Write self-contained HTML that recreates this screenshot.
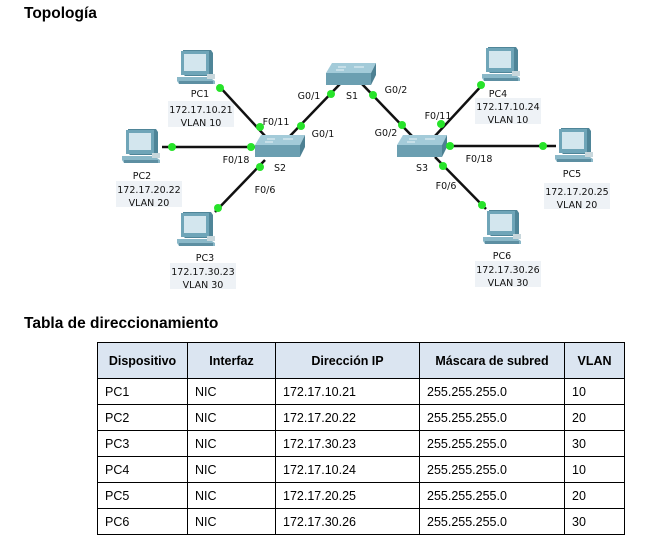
<!DOCTYPE html>
<html><head><meta charset="utf-8"><style>
body{margin:0;background:#fff;width:653px;height:541px;overflow:hidden;font-family:"Liberation Sans",Arial,sans-serif;position:relative}
.h{position:absolute;left:24px;font-weight:bold;font-size:15.5px;color:#000}
table{position:absolute;left:97px;top:342px;border-collapse:collapse;font-size:12.5px}
td,th{border:1px solid #000;height:25px;padding:0 0 0 7px;text-align:left}
th{background:#dbe5f1;height:35px;font-weight:bold;text-align:center;padding:0}
svg{position:absolute;left:0;top:0}
svg text{font-family:"DejaVu Sans",sans-serif;font-size:9.5px;fill:#111}
</style></head><body>
<div class="h" style="top:5px">Topología</div>
<div class="h" style="top:315px">Tabla de direccionamiento</div>
<svg width="653" height="300">
<defs>
<g id="pc">
<polygon points="6,0 34,0 36,3 36,26 8,26 6,24" fill="#4f8598"/>
<rect x="4" y="1" width="28" height="24" fill="#6fa5b8"/>
<rect x="7" y="4" width="22" height="17" fill="#d3e6ee"/>
<polygon points="0,27 32,27 38,31 38,34 2,34 0,31" fill="#8ab8c8"/>
<rect x="2" y="31" width="34" height="3" fill="#5d8fa2"/>
<rect x="30" y="24" width="8" height="5" fill="#c8d7dc"/>
</g>
<g id="sw">
<polygon points="6,0 50,0 45,10 0,10" fill="#a3cbd9"/>
<polygon points="0,10 45,10 45,22 0,22" fill="#6b9fb1"/>
<polygon points="45,10 50,0 50,12 45,22" fill="#4d8193"/>
<line x1="12" y1="4" x2="20" y2="4" stroke="#e8f3f7" stroke-width="1"/>
<line x1="28" y1="4" x2="38" y2="4" stroke="#e8f3f7" stroke-width="1"/>
<line x1="10" y1="7" x2="18" y2="7" stroke="#e8f3f7" stroke-width="1"/>
</g>
</defs>
<rect x="168" y="101" width="66" height="26" fill="#eef2f6"/>
<rect x="116" y="181" width="66" height="26" fill="#eef2f6"/>
<rect x="170" y="263" width="66" height="26" fill="#eef2f6"/>
<rect x="475" y="98" width="66" height="26" fill="#eef2f6"/>
<rect x="544" y="183" width="66" height="26" fill="#eef2f6"/>
<rect x="475" y="261" width="66" height="26" fill="#eef2f6"/>
<g stroke="#111" stroke-width="2.5">
<line x1="218" y1="85" x2="266" y2="137"/>
<line x1="162" y1="147" x2="256" y2="147"/>
<line x1="215" y1="212" x2="265" y2="160"/>
<line x1="290" y1="136" x2="340" y2="84"/>
<line x1="362" y1="84" x2="412" y2="136"/>
<line x1="435" y1="136" x2="484" y2="83"/>
<line x1="445" y1="146" x2="556" y2="146"/>
<line x1="435" y1="157" x2="486" y2="209"/>
</g>
<use href="#pc" x="177" y="50"/>
<use href="#pc" x="122" y="129"/>
<use href="#pc" x="177" y="212"/>
<use href="#pc" x="482" y="47"/>
<use href="#pc" x="555" y="128"/>
<use href="#pc" x="483" y="210"/>
<use href="#sw" x="326" y="63"/>
<use href="#sw" x="255" y="135"/>
<use href="#sw" x="397" y="135"/>
<g fill="#27e32a">
<circle cx="220" cy="88" r="4"/><circle cx="260" cy="127" r="4"/>
<circle cx="172" cy="147" r="4"/><circle cx="251" cy="147" r="4"/>
<circle cx="218" cy="208" r="4"/><circle cx="260" cy="167" r="4"/>
<circle cx="301" cy="126" r="4"/><circle cx="331" cy="94" r="4"/>
<circle cx="373" cy="95" r="4"/><circle cx="402" cy="125" r="4"/>
<circle cx="441" cy="124" r="4"/><circle cx="481" cy="85" r="4"/>
<circle cx="450" cy="146" r="4"/><circle cx="543" cy="146" r="4"/>
<circle cx="443" cy="166" r="4"/><circle cx="482" cy="205" r="4"/>
</g>
<g text-anchor="middle">
<text x="200" y="97">PC1</text><text x="201" y="113">172.17.10.21</text><text x="201" y="126">VLAN 10</text>
<text x="142" y="179">PC2</text><text x="149" y="193">172.17.20.22</text><text x="149" y="206">VLAN 20</text>
<text x="205" y="261">PC3</text><text x="203" y="275">172.17.30.23</text><text x="203" y="288">VLAN 30</text>
<text x="498" y="97">PC4</text><text x="508" y="110">172.17.10.24</text><text x="508" y="123">VLAN 10</text>
<text x="572" y="177">PC5</text><text x="577" y="195">172.17.20.25</text><text x="577" y="208">VLAN 20</text>
<text x="502" y="259">PC6</text><text x="508" y="273">172.17.30.26</text><text x="508" y="286">VLAN 30</text>
<text x="352" y="99">S1</text><text x="280" y="171">S2</text><text x="422" y="171">S3</text>
<text x="309" y="99">G0/1</text><text x="323" y="137">G0/1</text>
<text x="396" y="93">G0/2</text><text x="386" y="136">G0/2</text>
<text x="276" y="125">F0/11</text><text x="236" y="163">F0/18</text><text x="265" y="193">F0/6</text>
<text x="438" y="119">F0/11</text><text x="479" y="162">F0/18</text><text x="446" y="189">F0/6</text>
</g>
</svg>
<table>
<tr><th style="width:89px">Dispositivo</th><th style="width:87px">Interfaz</th><th style="width:143px">Dirección IP</th><th style="width:144px">Máscara de subred</th><th style="width:59px">VLAN</th></tr>
<tr><td>PC1</td><td>NIC</td><td>172.17.10.21</td><td>255.255.255.0</td><td>10</td></tr>
<tr><td>PC2</td><td>NIC</td><td>172.17.20.22</td><td>255.255.255.0</td><td>20</td></tr>
<tr><td>PC3</td><td>NIC</td><td>172.17.30.23</td><td>255.255.255.0</td><td>30</td></tr>
<tr><td>PC4</td><td>NIC</td><td>172.17.10.24</td><td>255.255.255.0</td><td>10</td></tr>
<tr><td>PC5</td><td>NIC</td><td>172.17.20.25</td><td>255.255.255.0</td><td>20</td></tr>
<tr><td>PC6</td><td>NIC</td><td>172.17.30.26</td><td>255.255.255.0</td><td>30</td></tr>
</table>
</body></html>
